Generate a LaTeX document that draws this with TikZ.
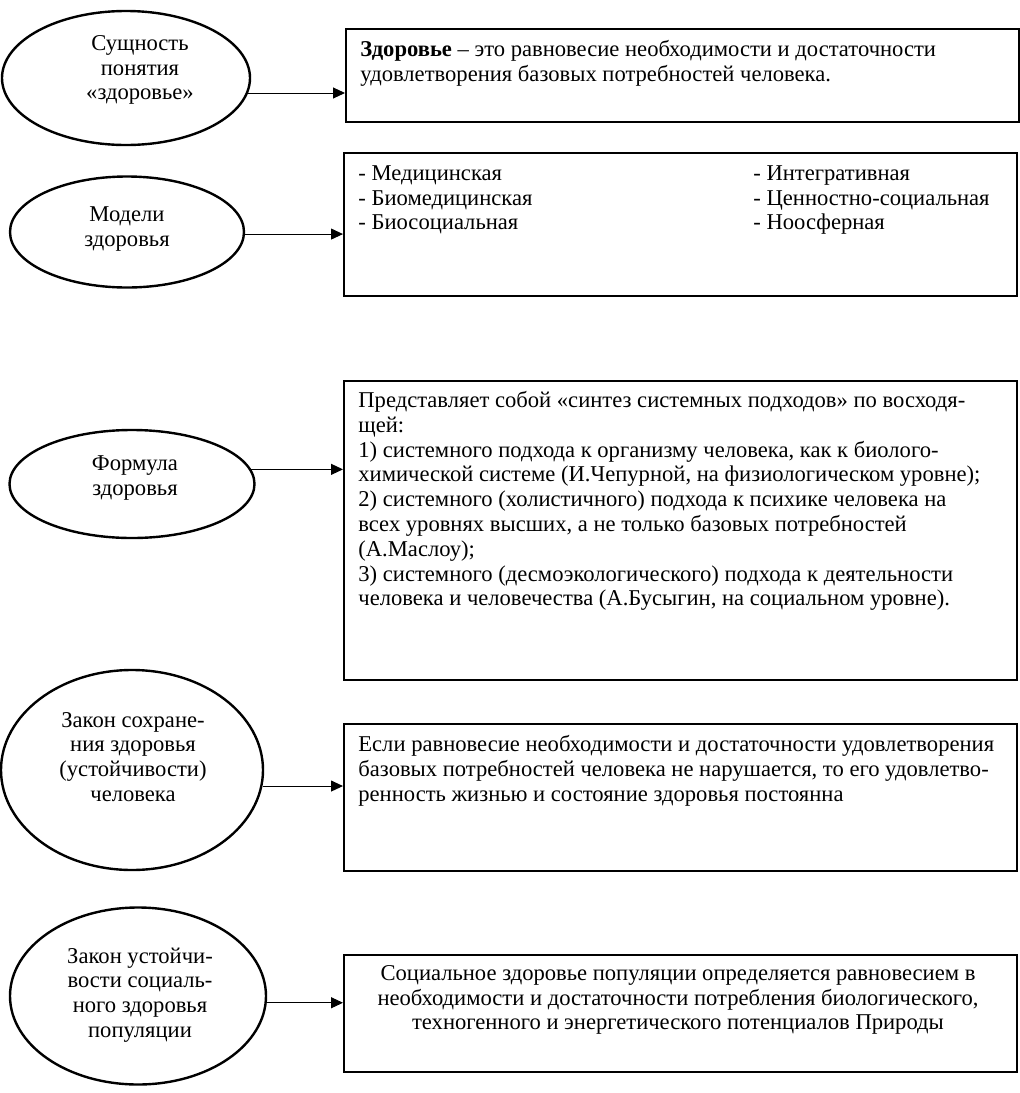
\documentclass[tikz,border=0pt]{standalone}
\usepackage{fontspec}
\setmainfont{Liberation Serif}
\usetikzlibrary{shapes.geometric, arrows.meta, positioning, calc}
\newcommand{\boxfont}{\fontsize{11.3}{12.4}\selectfont}

\begin{document}
\begin{tikzpicture}[x=0.5pt,y=0.5pt]
\tikzset{
  ov/.style={ellipse,draw=black,line width=1.2pt,inner sep=0pt},
  ol/.style={align=center,inner sep=0pt,font=\boxfont},
  bx/.style={rectangle,draw=black,line width=1pt,anchor=north west,minimum width=336.5pt,inner sep=0pt},
  tx/.style={anchor=north west,align=left,inner sep=0pt,font=\boxfont},
  ar/.style={-{Triangle[length=6pt,width=5.5pt]},line width=0.5pt,draw=black}
}
\useasboundingbox (0,0) rectangle (1019,-1093);
% left column: ovals
\node[ov,minimum width=124pt,minimum height=67pt] (e1) at (126,-78) {};
\node[ov,minimum width=117pt,minimum height=55.5pt] (e2) at (127,-232) {};
\node[ov,minimum width=122.5pt,minimum height=54pt] (e3) at (132,-484) {};
\node[ov,minimum width=131pt,minimum height=100pt] (e4) at (132,-770) {};
\node[ov,minimum width=128pt,minimum height=88.5pt] (e5) at (138,-996) {};
\node[ol] (l1) at (140,-70) {Сущность\\понятия\\«здоровье»};
\node[ol] (l2) at (127,-229) {Модели\\здоровья};
\node[ol] (l3) at (135,-478) {Формула\\здоровья};
\node[ol] (l4) at (133,-757) {Закон сохране-\\ния здоровья\\(устойчивости)\\человека};
\node[ol] (l5) at (140,-995) {Закон устойчи-\\вости социаль-\\ного здоровья\\популяции};
% right column: frames
\node[bx,minimum height=46.5pt] (b1) at (345,-28) {};
\node[bx,minimum height=71.5pt] (b2) at (343,-152) {};
\node[bx,minimum height=149.5pt] (b3) at (343,-380) {};
\node[bx,minimum height=73.5pt] (b4) at (343,-723) {};
\node[bx,minimum height=58.5pt] (b5) at (343,-954) {};
% texts in frames
\node[tx] (t1) at (360,-40) {\textbf{Здоровье} – это равновесие необходимости и достаточности\\удовлетворения базовых потребностей человека.};
\node[tx] (t2a) at (358,-165) {- Медицинская\\- Биомедицинская\\- Биосоциальная};
\node[tx] (t2b) at (753,-165) {- Интегративная\\- Ценностно-социальная\\- Ноосферная};
\node[tx] (t3) at (358,-391) {Представляет собой «синтез системных подходов» по восходя-\\щей:\\1) системного подхода к организму человека, как к биолого-\\химической системе (И.Чепурной, на физиологическом уровне);\\2) системного (холистичного) подхода к психике человека на\\всех уровнях высших, а не только базовых потребностей\\(А.Маслоу);\\3) системного (десмоэкологического) подхода к деятельности\\человека и человечества (А.Бусыгин, на социальном уровне).};
\node[tx] (t4) at (358,-735) {Если равновесие необходимости и достаточности удовлетворения\\базовых потребностей человека не нарушается, то его удовлетво-\\ренность жизнью и состояние здоровья постоянна};
\node[tx,anchor=center,align=center] (t5) at (678,-1000) {Социальное здоровье популяции определяется равновесием в\\необходимости и достаточности потребления биологического,\\техногенного и энергетического потенциалов Природы};
% connectors
\foreach \a/\b/\t in {e1/b1/-7.6,e2/b2/-1,e3/b3/7,e4/b4/-7.5,e5/b5/-3}{\draw[ar] (\a.\t)--(\b.west |- \a.\t);}
\end{tikzpicture}
\end{document}
